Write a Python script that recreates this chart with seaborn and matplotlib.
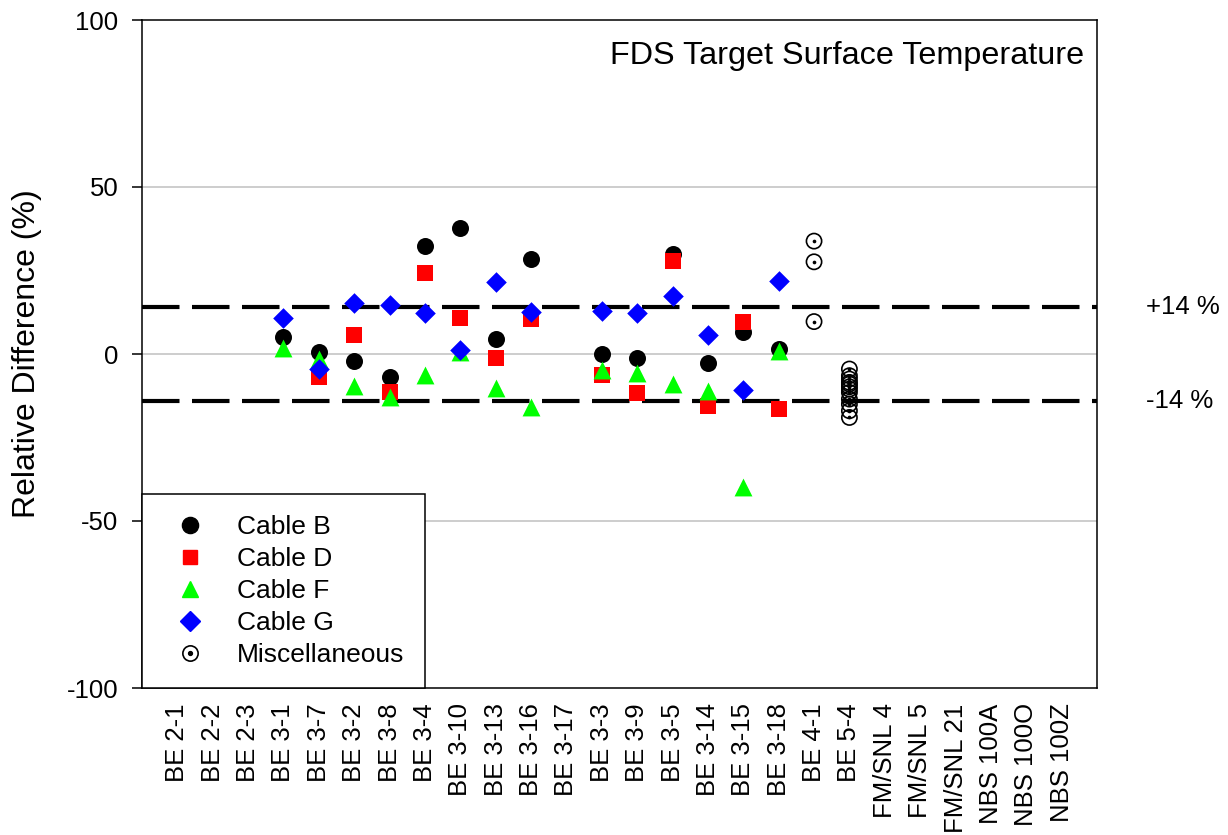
import numpy as np
import pandas as pd
import matplotlib
matplotlib.use("Agg")
import matplotlib.pyplot as plt
from matplotlib.lines import Line2D
import seaborn as sns

# x-axis test names (in plotting order)
tests = ["BE 2-1", "BE 2-2", "BE 2-3", "BE 3-1", "BE 3-7", "BE 3-2", "BE 3-8",
         "BE 3-4", "BE 3-10", "BE 3-13", "BE 3-16", "BE 3-17", "BE 3-3", "BE 3-9",
         "BE 3-5", "BE 3-14", "BE 3-15", "BE 3-18", "BE 4-1", "BE 5-4",
         "FM/SNL 4", "FM/SNL 5", "FM/SNL 21", "NBS 100A", "NBS 100O", "NBS 100Z"]

# tests with cable data
cable_tests = ["BE 3-1", "BE 3-7", "BE 3-2", "BE 3-8", "BE 3-4", "BE 3-10", "BE 3-13",
               "BE 3-16", "BE 3-3", "BE 3-9", "BE 3-5", "BE 3-14", "BE 3-15", "BE 3-18"]
cable_b = [5.0, 0.7, -2.0, -7.0, 32.3, 37.6, 4.5, 28.3, 0.0, -1.3, 29.9, -2.6, 6.7, 1.4]
cable_d = [np.nan, -7.0, 5.7, -11.3, 24.2, 10.9, -1.1, 10.4, -6.3, -11.6, 27.9, -15.6, 9.7, -16.5]
cable_f = [1.9, -1.5, -9.5, -12.8, -6.3, 0.6, -10.3, -15.8, -4.8, -5.6, -9.0, -11.0, -39.7, 1.0]
cable_g = [10.8, -4.5, 15.2, 14.7, 12.2, 1.2, 21.7, 12.7, 13.0, 12.2, 17.4, 5.7, -10.8, 21.9]

misc_tests = ["BE 4-1"] * 3 + ["BE 5-4"] * 12
misc_values = [33.8, 27.6, 9.7,
               -4.5, -6.5, -7.5, -8.5, -9.0, -9.8, -10.5, -11.5, -13.5, -15.0, -17.0, -19.0]

bound = 14

sns.set_theme(style="white")
plt.rcParams["font.family"] = ["Liberation Sans", "DejaVu Sans"]
plt.rcParams["axes.unicode_minus"] = False
for key in ["text.color", "axes.labelcolor", "xtick.color", "ytick.color", "axes.edgecolor"]:
    plt.rcParams[key] = "black"

pos = {t: i + 1 for i, t in enumerate(tests)}

fig = plt.figure(figsize=(12.28, 8.35), dpi=100)
ax = fig.add_axes([142 / 1228, 1 - 688 / 835, 955 / 1228, 668 / 835])

# grid lines and +/- bounds
for gy in [-50, 0, 50]:
    ax.axhline(gy, color="#c0c0c0", lw=1.1, zorder=0)
for by in [bound, -bound]:
    ax.axhline(by, color="black", lw=3, linestyle=(0, (9, 3)), zorder=1)

series = [
    ("Cable B", cable_b, "o", "black", 150),
    ("Cable D", cable_d, "s", "red", 125),
    ("Cable F", cable_f, "^", "#00ff00", 165),
    ("Cable G", cable_g, "D", "blue", 110),
]
handles = []
for name, vals, mk, col, s in series:
    df = pd.DataFrame({"x": [pos[t] for t in cable_tests], "y": vals}).dropna()
    sns.scatterplot(data=df, x="x", y="y", marker=mk, color=col, s=s,
                    linewidth=0, ax=ax, zorder=3)
    handles.append(Line2D([], [], ls="", marker=mk, color=col, markersize=np.sqrt(s) * 0.95))

misc = pd.DataFrame({"x": [pos[t] for t in misc_tests], "y": misc_values})
sns.scatterplot(data=misc, x="x", y="y", marker="o", s=120, facecolors="none",
                edgecolor="black", linewidth=1.2, ax=ax, zorder=4)
ax.collections[-1].set_facecolor("none")
sns.scatterplot(data=misc, x="x", y="y", marker="o", s=7, color="black",
                linewidth=0, ax=ax, zorder=5)
handles.append((Line2D([], [], ls="", marker="o", markersize=11, mfc="none", mec="black", mew=1.2),
                Line2D([], [], ls="", marker="o", markersize=2.8, color="black")))

labels = [s[0] for s in series] + ["Miscellaneous"]
leg = ax.legend(handles, labels, loc="lower left", bbox_to_anchor=(0, 0), borderaxespad=0,
                fontsize=19, frameon=True, fancybox=False, framealpha=1, edgecolor="black",
                borderpad=0.8, handlelength=2.0, handletextpad=0.8, labelspacing=0.3)
leg.get_frame().set_linewidth(1.1)
leg.set_zorder(10)

ax.set_xlim(0, len(tests) + 1)
ax.set_ylim(-100, 100)
ax.set_xticks([pos[t] for t in tests])
ax.set_xticklabels(tests, rotation=90, fontsize=18.5)
ax.set_yticks([-100, -50, 0, 50, 100])
ax.tick_params(axis="y", which="major", direction="out", length=7.5, width=1.1,
               labelsize=18.5, pad=9.5, left=True, color="black")
ax.tick_params(axis="x", length=0, pad=11)
ax.set_xlabel("")
ax.set_ylabel("Relative Difference (%)", fontsize=23)
ax.yaxis.set_label_coords(-0.105, 0.5)
for sp in ax.spines.values():
    sp.set_color("black")
    sp.set_linewidth(1.1)

ax.text(0.987, 0.968, "FDS Target Surface Temperature", transform=ax.transAxes,
        ha="right", va="top", fontsize=23.3)
trans = ax.get_yaxis_transform()
ax.text(1.0513, bound, "+14 %", transform=trans, ha="left", va="center", fontsize=18.5)
ax.text(1.0513, -bound, "-14 %", transform=trans, ha="left", va="center", fontsize=18.5)

fig.savefig("out.png", dpi=100)
